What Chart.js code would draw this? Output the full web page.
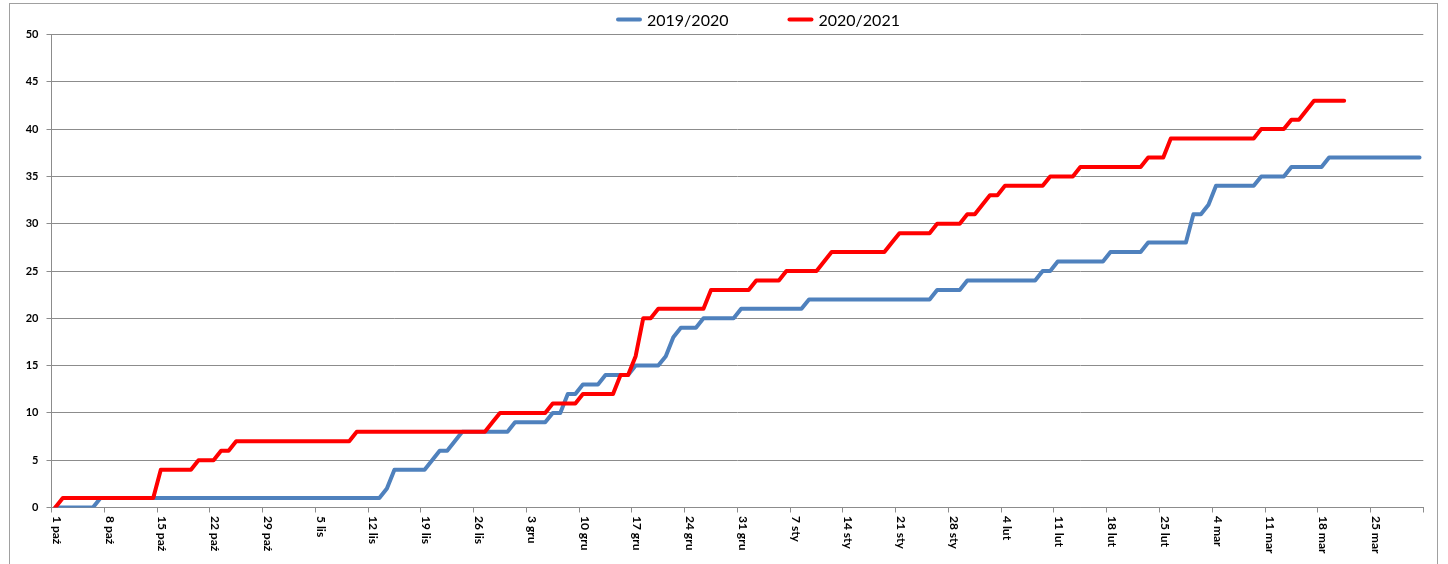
<!DOCTYPE html>
<html>
<head>
<meta charset="utf-8">
<script src="https://cdn.jsdelivr.net/npm/chart.js@4/dist/chart.umd.min.js"></script>
<style>
    html, body { margin: 0; padding: 0; background: #fff; }
    #wrap { width: 1448px; height: 564px; position: relative; }
</style>
</head>
<body>
<div id="wrap"><canvas id="seasonChart"></canvas></div>
<script>
// weekly tick labels, one every 7 days starting 1 Oct
const tickLabels = ['1 paź', '8 paź', '15 paź', '22 paź', '29 paź', '5 lis', '12 lis', '19 lis', '26 lis',
    '3 gru', '10 gru', '17 gru', '24 gru', '31 gru', '7 sty', '14 sty', '21 sty', '28 sty',
    '4 lut', '11 lut', '18 lut', '25 lut', '4 mar', '11 mar', '18 mar', '25 mar'];

const seriesNames = ['2019/2020', '2020/2021'];

// cumulative counts per day, one row = one week
const season1920 = [
    0, 0, 0, 0, 0, 0, 1,
    1, 1, 1, 1, 1, 1, 1,
    1, 1, 1, 1, 1, 1, 1,
    1, 1, 1, 1, 1, 1, 1,
    1, 1, 1, 1, 1, 1, 1,
    1, 1, 1, 1, 1, 1, 1,
    1, 1, 2, 4, 4, 4, 4,
    4, 5, 6, 6, 7, 8, 8,
    8, 8, 8, 8, 8, 9, 9,
    9, 9, 9, 10, 10, 12, 12,
    13, 13, 13, 14, 14, 14, 14,
    15, 15, 15, 15, 16, 18, 19,
    19, 19, 20, 20, 20, 20, 20,
    21, 21, 21, 21, 21, 21, 21,
    21, 21, 22, 22, 22, 22, 22,
    22, 22, 22, 22, 22, 22, 22,
    22, 22, 22, 22, 22, 23, 23,
    23, 23, 24, 24, 24, 24, 24,
    24, 24, 24, 24, 24, 25, 25,
    26, 26, 26, 26, 26, 26, 26,
    27, 27, 27, 27, 27, 28, 28,
    28, 28, 28, 28, 31, 31, 32,
    34, 34, 34, 34, 34, 34, 35,
    35, 35, 35, 36, 36, 36, 36,
    36, 37, 37, 37, 37, 37, 37,
    37, 37, 37, 37, 37, 37, 37
];

const season2021 = [
    0, 1, 1, 1, 1, 1, 1,
    1, 1, 1, 1, 1, 1, 1,
    4, 4, 4, 4, 4, 5, 5,
    5, 6, 6, 7, 7, 7, 7,
    7, 7, 7, 7, 7, 7, 7,
    7, 7, 7, 7, 7, 8, 8,
    8, 8, 8, 8, 8, 8, 8,
    8, 8, 8, 8, 8, 8, 8,
    8, 8, 9, 10, 10, 10, 10,
    10, 10, 10, 11, 11, 11, 11,
    12, 12, 12, 12, 12, 14, 14,
    16, 20, 20, 21, 21, 21, 21,
    21, 21, 21, 23, 23, 23, 23,
    23, 23, 24, 24, 24, 24, 25,
    25, 25, 25, 25, 26, 27, 27,
    27, 27, 27, 27, 27, 27, 28,
    29, 29, 29, 29, 29, 30, 30,
    30, 30, 31, 31, 32, 33, 33,
    34, 34, 34, 34, 34, 34, 35,
    35, 35, 35, 36, 36, 36, 36,
    36, 36, 36, 36, 36, 37, 37,
    37, 39, 39, 39, 39, 39, 39,
    39, 39, 39, 39, 39, 39, 40,
    40, 40, 40, 41, 41, 42, 43,
    43, 43, 43, 43
];

const dayIndex = season1920.map((v, i) => i);

const gridGray = '#8c8c8c';
const labelFont = 'Lato, "DejaVu Sans", sans-serif';

// excel style outer frame
const framePlugin = {
    id: 'frame',
    beforeDraw(chart) {
        const ctx = chart.ctx;
        ctx.save();
        ctx.fillStyle = '#fff';
        ctx.fillRect(0, 0, chart.width, chart.height);
        ctx.strokeStyle = '#a0a0a0';
        ctx.lineWidth = 1;
        ctx.strokeRect(9.5, 3.5, 1428, 620);
        ctx.restore();
    }
};

// x labels read top-to-bottom, which the built-in rotation can't do
const xLabelPlugin = {
    id: 'xLabels',
    afterDraw(chart) {
        const ctx = chart.ctx;
        const xs = chart.scales.x;
        ctx.save();
        ctx.font = 'bold 12px ' + labelFont;
        ctx.fillStyle = '#000';
        ctx.textAlign = 'left';
        ctx.textBaseline = 'middle';
        tickLabels.forEach((lbl, k) => {
            const x = xs.getPixelForTick(k * 7) + 1.5;
            ctx.save();
            ctx.translate(x, 516);
            ctx.rotate(Math.PI / 2);
            ctx.fillText(lbl, 0, 0);
            ctx.restore();
        });
        ctx.restore();
    }
};

const legendPlugin = {
    id: 'lineLegend',
    afterDraw(chart) {
        const ctx = chart.ctx;
        ctx.save();
        ctx.font = '16px ' + labelFont;
        ctx.textBaseline = 'middle';
        ctx.fillStyle = '#000';
        let x = 617;
        const y = 19.5;
        chart.data.datasets.forEach(ds => {
            ctx.strokeStyle = ds.borderColor;
            ctx.lineWidth = 4;
            ctx.lineCap = 'round';
            ctx.beginPath();
            ctx.moveTo(x + 1, y);
            ctx.lineTo(x + 23, y);
            ctx.stroke();
            ctx.fillText(ds.label, x + 30, y + 1);
            x += 30 + ctx.measureText(ds.label).width + 60;
        });
        ctx.restore();
    }
};

const ctx = document.getElementById('seasonChart').getContext('2d');
window.seasonChart = new Chart(ctx, {
    type: 'line',
    data: {
        labels: dayIndex,
        datasets: [{
                label: seriesNames[0],
                data: season1920,
                borderColor: '#4f81bd',
                borderWidth: 4,
                pointRadius: 0,
                borderJoinStyle: 'round',
                borderCapStyle: 'round',
                fill: false,
                order: 1
            },
            {
                label: seriesNames[1],
                data: season2021,
                borderColor: '#ff0000',
                borderWidth: 4,
                pointRadius: 0,
                borderJoinStyle: 'round',
                borderCapStyle: 'round',
                fill: false,
                order: 0
            }
        ]
    },
    options: {
        responsive: true,
        maintainAspectRatio: false,
        animation: false,
        events: [],
        layout: {
            padding: { top: 34.5, right: 24.7, bottom: 0, left: 0 }
        },
        scales: {
            x: {
                type: 'category',
                offset: true,
                afterFit: s => { s.height = 56.5; },
                border: { display: true, color: gridGray, width: 1 },
                grid: {
                    offset: true,
                    drawOnChartArea: false,
                    drawTicks: true,
                    tickLength: 5,
                    tickColor: c => (c.index === undefined || c.index % 7 === 0) ? gridGray : 'rgba(0,0,0,0)'
                },
                ticks: { display: false, autoSkip: false }
            },
            y: {
                min: 0,
                max: 50,
                afterFit: s => { s.width = 51.5; },
                border: { display: true, color: gridGray, width: 1 },
                grid: {
                    color: gridGray,
                    tickColor: gridGray,
                    tickLength: 5,
                    drawTicks: true
                },
                ticks: {
                    stepSize: 5,
                    padding: 8,
                    color: '#000',
                    font: { family: labelFont, size: 11, weight: 'bold' }
                }
            }
        },
        plugins: {
            legend: { display: false },
            tooltip: { enabled: false }
        }
    },
    plugins: [framePlugin, xLabelPlugin, legendPlugin]
});
</script>
</body>
</html>
